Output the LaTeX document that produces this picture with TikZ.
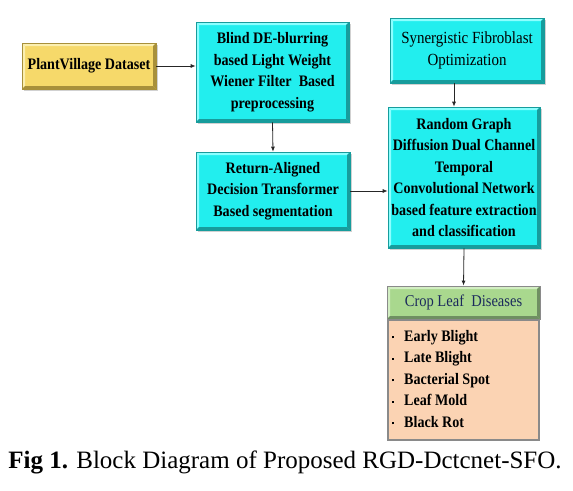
\documentclass[tikz,border=0pt]{standalone}
\usepackage{fontspec}
\setmainfont{Liberation Serif}
\newfontfamily\slimfont[FakeStretch=0.88]{Liberation Serif}
\usetikzlibrary{arrows.meta,shadows}

\definecolor{stagefill}{HTML}{22EEEE}
\definecolor{stagelight}{HTML}{8CFFFF}
\definecolor{stagedark}{HTML}{179C9C}
\definecolor{datafill}{HTML}{F6D96A}
\definecolor{datalight}{HTML}{FBEFB0}
\definecolor{datadark}{HTML}{A8903A}
\definecolor{headfill}{HTML}{A9D88E}
\definecolor{headlight}{HTML}{D2EEC2}
\definecolor{headdark}{HTML}{6F8F62}
\definecolor{headtext}{HTML}{1C2A5C}
\definecolor{listfill}{HTML}{FBD3B3}
\definecolor{listedge}{HTML}{8A8A8A}

\tikzset{
  bevel/.style 2 args={path picture={
    \coordinate (bsw) at (path picture bounding box.south west);
    \coordinate (bne) at (path picture bounding box.north east);
    \coordinate (bnw) at (path picture bounding box.north west);
    \coordinate (bse) at (path picture bounding box.south east);
    \fill[#1] (bnw) -- (bne) -- ([shift={(-3pt,-3pt)}]bne) -- ([shift={(3pt,-3pt)}]bnw) -- cycle;
    \fill[#1] (bnw) -- (bsw) -- ([shift={(3pt,3pt)}]bsw) -- ([shift={(3pt,-3pt)}]bnw) -- cycle;
    \fill[#2] (bsw) -- (bse) -- ([shift={(-3pt,3pt)}]bse) -- ([shift={(3pt,3pt)}]bsw) -- cycle;
    \fill[#2] (bse) -- (bne) -- ([shift={(-3pt,-3pt)}]bne) -- ([shift={(-3pt,3pt)}]bse) -- cycle;
  }},
  boxtext/.style={font=\slimfont\bfseries\fontsize{16}{21.5}\selectfont, align=center, inner sep=0pt},
  stage/.style 2 args={boxtext, fill=stagefill, draw=stagedark, line width=0.6pt,
    minimum width=#1, minimum height=#2, bevel={stagelight}{stagedark},
    drop shadow={shadow xshift=2pt, shadow yshift=-2pt, fill=black!30, opacity=0.6}},
  link/.style={draw=black!85, line width=0.8pt, -{Latex[length=5pt,width=4pt]}},
}

\begin{document}
\begin{tikzpicture}[x=1pt, y=-1pt]
  \useasboundingbox (0,0) rectangle (573,490);
  % input
  \node[boxtext, fill=datafill, draw=datadark, line width=0.6pt, minimum width=134pt, minimum height=46pt,
    bevel={datalight}{datadark}, drop shadow={shadow xshift=2pt, shadow yshift=-2pt, fill=black!30, opacity=0.6}]
    (dataset) at (89,66) {PlantVillage Dataset};
  % stages
  \node[stage={153pt}{100pt}] (deblur) at (272.5,72) {Blind DE-blurring\\based Light Weight\\Wiener Filter\ \ Based\\preprocessing};
  \node[stage={154pt}{78pt}] (segment) at (273,191) {Return-Aligned\\Decision Transformer\\Based segmentation};
  \node[stage={154pt}{65pt}, font=\slimfont\fontsize{17}{22}\selectfont] (optim) at (467,50.5) {Synergistic Fibroblast\\Optimization};
  \node[stage={152pt}{141pt}] (network) at (464,177.5) {Random Graph\\Diffusion Dual Channel\\Temporal\\Convolutional Network\\based feature extraction\\and classification};
  % output
  \node[boxtext, font=\slimfont\fontsize{16.5}{20}\selectfont, text=headtext, fill=headfill, draw=listedge, line width=0.8pt,
    minimum width=153pt, minimum height=33pt, bevel={headlight}{headdark}] (diseases) at (463.5,302.5) {Crop Leaf\ \ Diseases};
  \node[fill=listfill, draw=listedge, line width=2.5pt, minimum width=151pt, minimum height=120pt] (classes) at (463.5,380) {};
  \node[boxtext, align=left, anchor=north west] (items) at (392,330)
    {\raisebox{3pt}{\rule{2pt}{2pt}}\hspace{10pt}Early Blight\\
     \raisebox{3pt}{\rule{2pt}{2pt}}\hspace{10pt}Late Blight\\
     \raisebox{3pt}{\rule{2pt}{2pt}}\hspace{10pt}Bacterial Spot\\
     \raisebox{3pt}{\rule{2pt}{2pt}}\hspace{10pt}Leaf Mold\\
     \raisebox{3pt}{\rule{2pt}{2pt}}\hspace{10pt}Black Rot};
  % connectors
  \draw[link] (dataset.east) -- (dataset.east -| deblur.west);
  \draw[link] (deblur.south) -- (segment.north);
  \draw[link] (segment.east) -- (segment.east -| network.west);
  \draw[link] ([xshift=-13pt]optim.south) -- ([xshift=-13pt]optim.south |- network.north);
  \draw[link] (network.south) -- (diseases.north);
  % caption
  \node[inner sep=0pt] (caption) at (285,462) {\fontsize{25}{28}\selectfont\textbf{Fig 1.} Block Diagram of Proposed RGD-Dctcnet-SFO.};
\end{tikzpicture}
\end{document}
